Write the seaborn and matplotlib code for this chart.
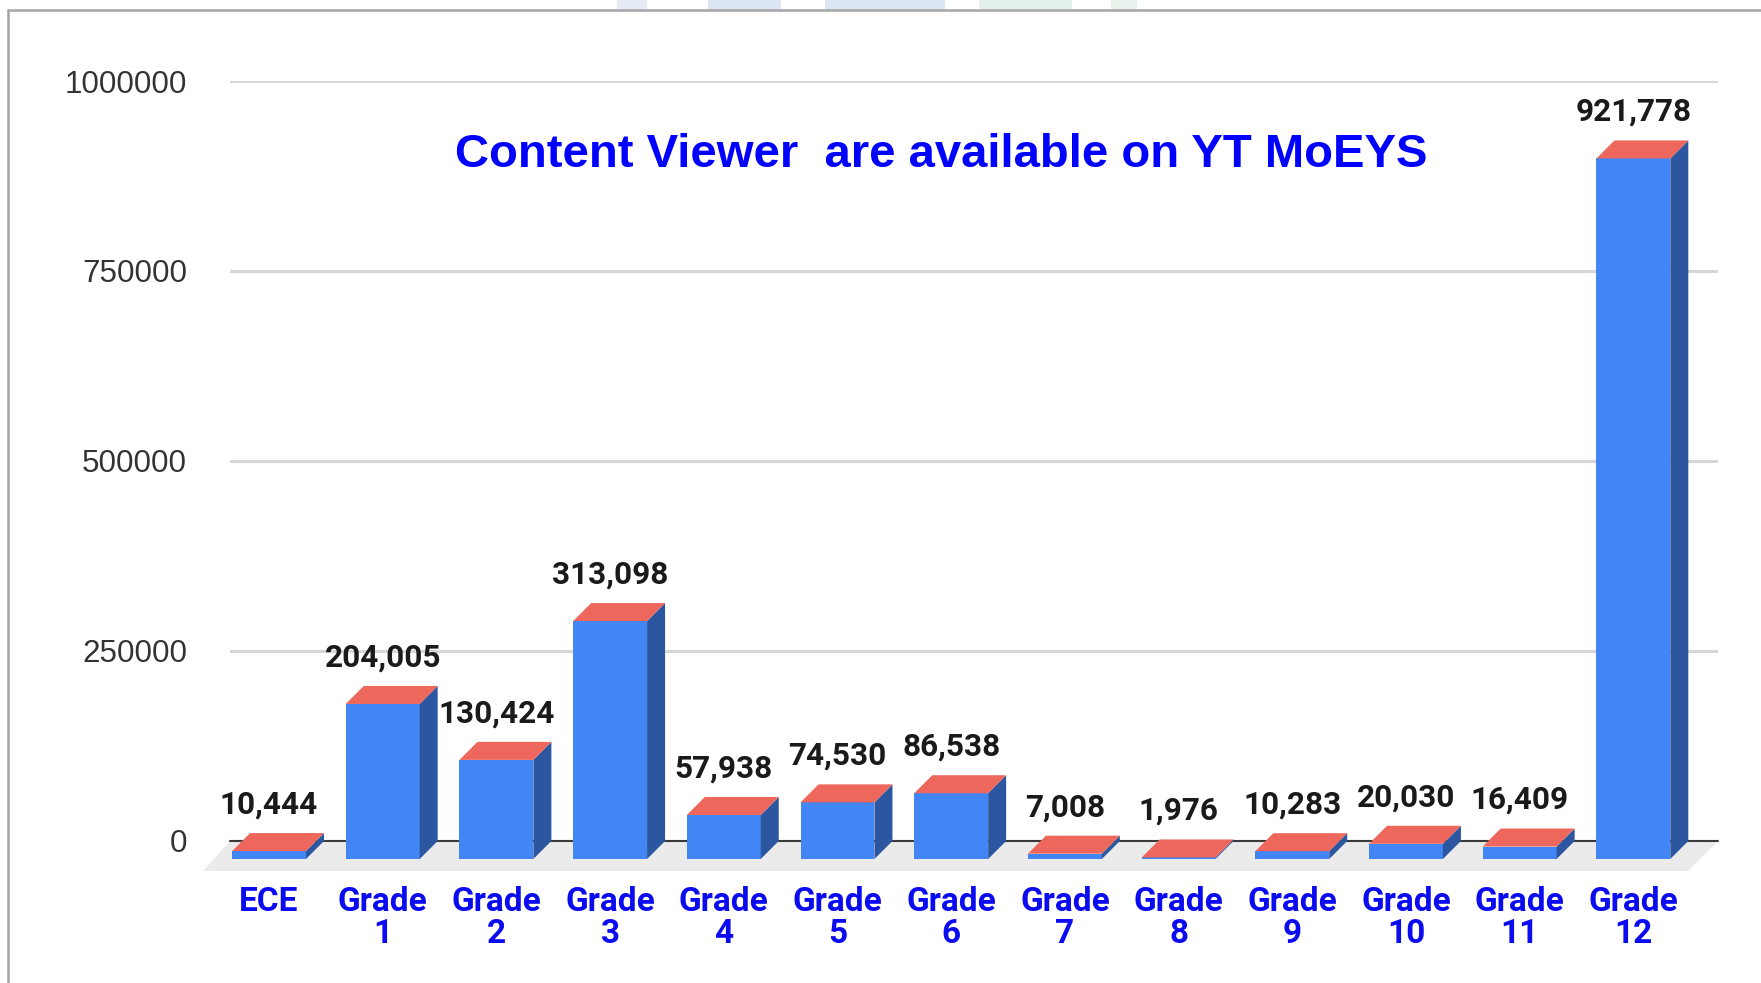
import pandas as pd
import matplotlib
matplotlib.use('Agg')
import matplotlib.pyplot as plt
from matplotlib.lines import Line2D
from matplotlib.patches import Polygon, Rectangle
import seaborn as sns

grades = ['ECE', 'Grade\n1', 'Grade\n2', 'Grade\n3', 'Grade\n4', 'Grade\n5', 'Grade\n6',
          'Grade\n7', 'Grade\n8', 'Grade\n9', 'Grade\n10', 'Grade\n11', 'Grade\n12']
viewers = [10444, 204005, 130424, 313098, 57938, 74530, 86538,
           7008, 1976, 10283, 20030, 16409, 921778]
y_ticks = [0, 250000, 500000, 750000, 1000000]
title = 'Content Viewer  are available on YT MoEYS'

BLUE = '#4285F4'
SIDE = '#2C57A0'
TOP = '#EE675C'
W, H = 1761, 983


def px_axes(left, bottom_from_top, width, height):
    # posicao em pixels da imagem -> fracao da figura
    return [left / W, (H - bottom_from_top) / H, width / W, height / H]


sns.set_theme(style='white')
plt.rcParams['font.family'] = ['Liberation Sans', 'DejaVu Sans']

fig = plt.figure(figsize=(W / 100, H / 100), dpi=100, facecolor='white')

# eixo de tras: grade, linha do zero e chao
ax_back = fig.add_axes(px_axes(230, 841, 1488, 760))
ax_back.set_xlim(0, 1)
ax_back.set_ylim(0, 1000000)
ax_back.set_yticks(y_ticks)
ax_back.set_yticklabels([str(t) for t in y_ticks], fontsize=22.6, color='#333333')
ax_back.set_xticks([])
ax_back.tick_params(axis='y', length=0, pad=31)
ax_back.grid(axis='y', color='#D6D6D6', linewidth=2.2)
sns.despine(ax=ax_back, left=True, bottom=True)

px_y = 1000000 / 760
floor = Polygon([(-27 / 1488, -30 * px_y), (1458 / 1488, -30 * px_y), (1, 0), (0, 0)],
                closed=True, facecolor='#EBEBEB', edgecolor='none', clip_on=False, zorder=1)
ax_back.add_patch(floor)
ax_back.axhline(0, color='#3A3A3A', linewidth=1.5, zorder=2, clip_on=False)

# eixo da frente: barras
ax = fig.add_axes(px_axes(212.2, 859, 1478, 760))
ax.patch.set_alpha(0)
df = pd.DataFrame({'grade': grades, 'viewers': viewers})
sns.barplot(data=df, x='grade', y='viewers', color=BLUE, saturation=1, width=0.65,
            linewidth=0, ax=ax)
ax.set_xlim(-0.5, 12.5)
ax.set_ylim(0, 1000000)
ax.set_xlabel('')
ax.set_ylabel('')
ax.set_yticks([])
ax.tick_params(axis='x', length=0, pad=19.5)
for lab in ax.get_xticklabels():
    lab.set_fontfamily(['Roboto', 'DejaVu Sans'])
    lab.set_fontweight('bold')
    lab.set_fontsize(24)
    lab.set_color('#0B0BF0')
    lab.set_linespacing(1.0)
sns.despine(ax=ax, left=True, bottom=True)

# profundidade 3D das barras
dx = 18 / (1478 / 13)
dy = 18 * px_y
for bar, v in zip(ax.patches, viewers):
    x0 = bar.get_x()
    x1 = x0 + bar.get_width()
    ax.add_patch(Polygon([(x1, 0), (x1 + dx, dy), (x1 + dx, v + dy), (x1, v)],
                         closed=True, facecolor=SIDE, edgecolor='none', clip_on=False))
    ax.add_patch(Polygon([(x0, v), (x1, v), (x1 + dx, v + dy), (x0 + dx, v + dy)],
                         closed=True, facecolor=TOP, edgecolor='none', clip_on=False))
    ax.annotate(format(v, ','), (x0 + bar.get_width() / 2, v + dy), xytext=(0, 20.5),
                textcoords='offset points', ha='center', va='center', fontsize=22.7,
                fontweight='bold', family=['Roboto', 'DejaVu Sans'], color='#1A1A1A',
                annotation_clip=False)

fig.text(941 / W, 1 - 155 / H, title, ha='center', va='center', fontsize=34,
         fontweight='bold', color='#0000FF')

# restos do fundo no topo do print
for x0, x1, cor in [(617, 647, '#E4EBF5'), (708, 781, '#DCE6F2'), (825, 945, '#DCE6F2'),
                    (979, 1072, '#E3F1EA'), (1111, 1137, '#E8F3EE')]:
    fig.add_artist(Rectangle((x0 / W, 1 - 10 / H), (x1 - x0) / W, 10 / H,
                             facecolor=cor, edgecolor='none'))

# moldura do print
fig.add_artist(Line2D([8 / W, 8 / W], [0, 1 - 10 / H], color='#A6A6A6', linewidth=1.8))
fig.add_artist(Line2D([8 / W, 1], [1 - 10 / H, 1 - 10 / H], color='#A6A6A6', linewidth=1.8))

plt.savefig('out.png', dpi=100)
